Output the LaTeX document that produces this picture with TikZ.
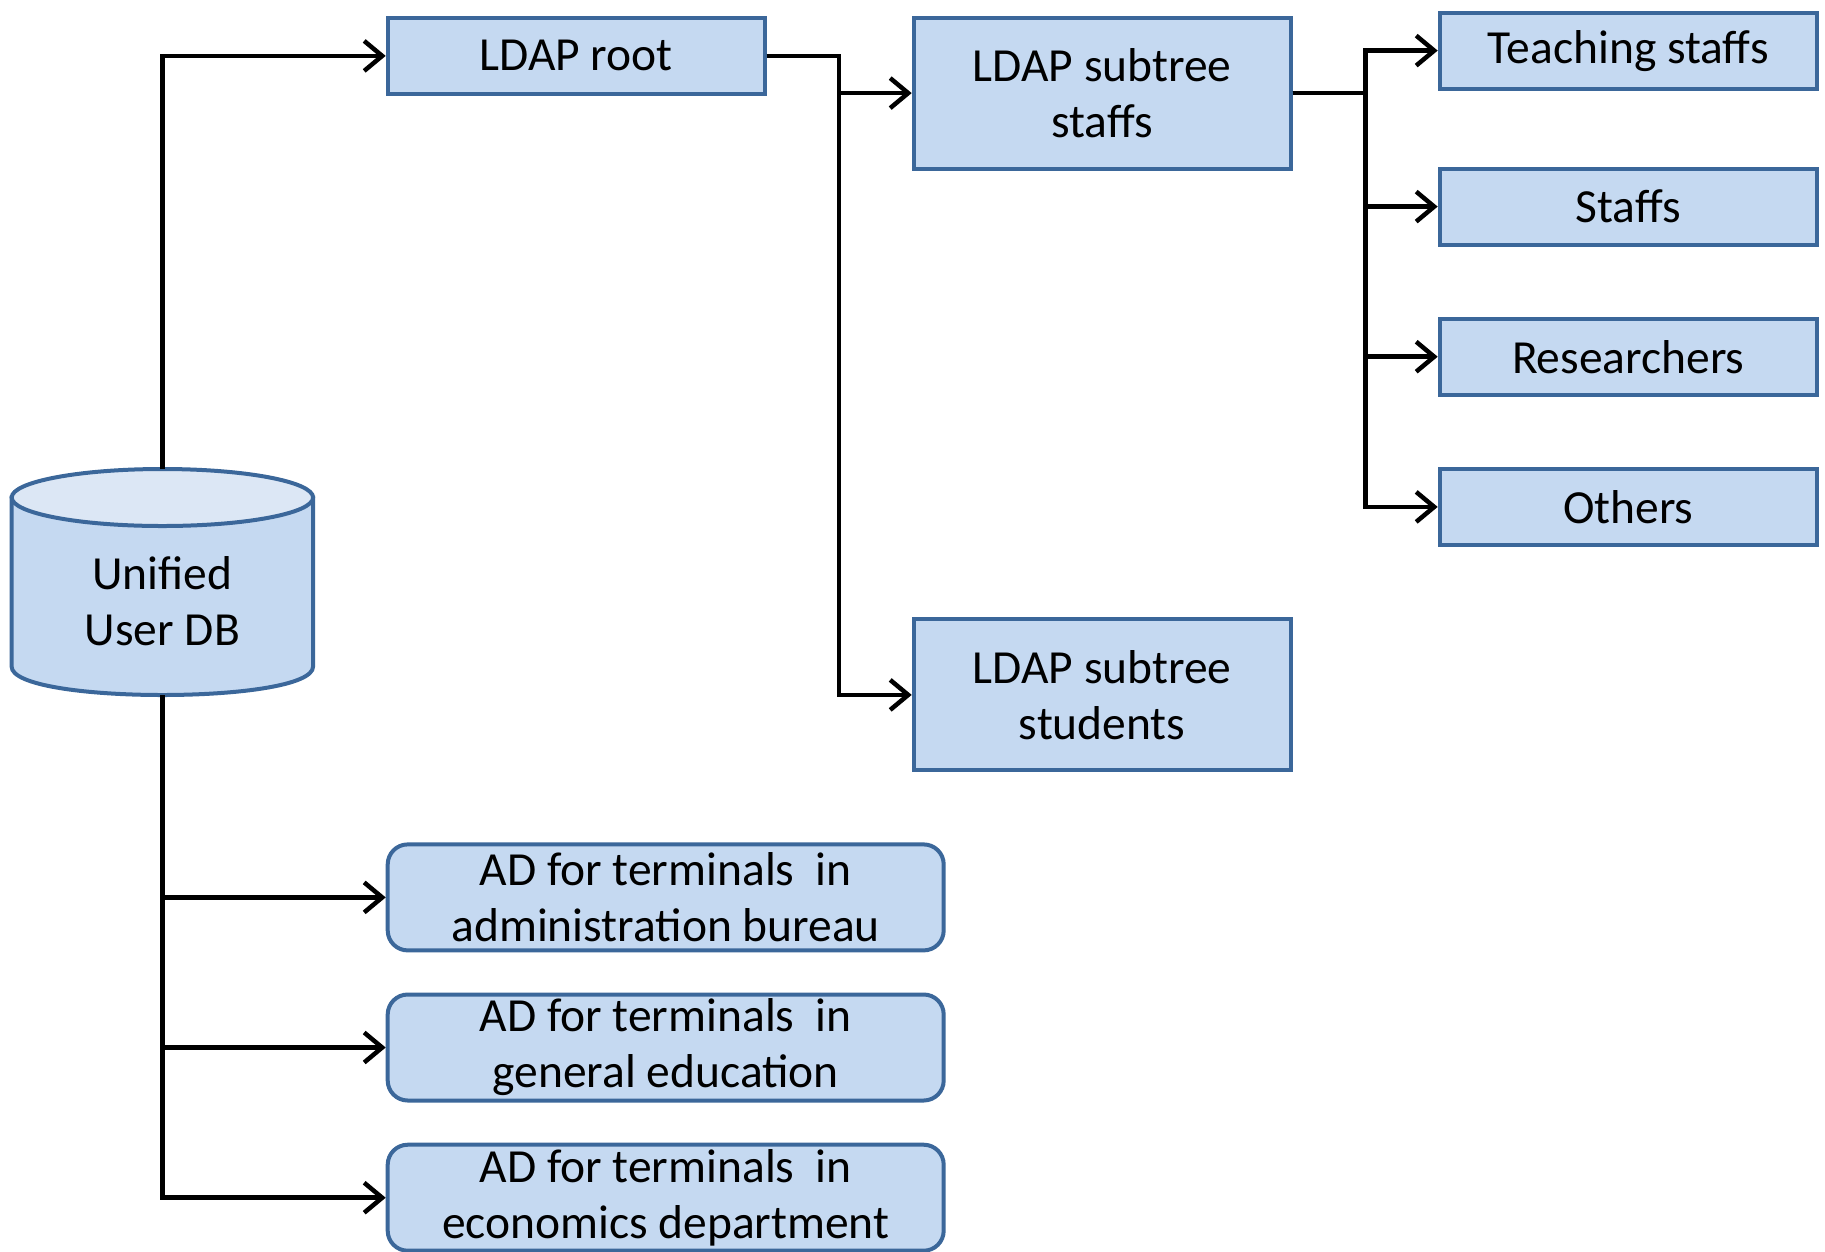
\documentclass[tikz,border=0pt]{standalone}
\usepackage{fontspec}
\setmainfont{Carlito}
\usepackage{tikz}
\usetikzlibrary{arrows.meta, calc}
\definecolor{BoxLine}{HTML}{3B679A}
\definecolor{BoxFill}{HTML}{C5D9F1}
\definecolor{TopFill}{HTML}{DCE7F5}

\begin{document}
\begin{tikzpicture}[x=1pt, y=-1pt,
	leaf/.style={draw=BoxLine, fill=BoxFill, line width=4pt, minimum width=377pt,
		minimum height=76pt, inner sep=0pt, align=center,
		font=\fontsize{47.5}{56}\selectfont},
	subtree/.style={leaf, minimum height=151pt},
	adbox/.style={leaf, rounded corners=20pt, minimum width=556pt, minimum height=106pt},
	link/.style={draw=black, line width=4.5pt, -{Straight Barb[length=18pt, width=30pt, line width=4.5pt]}}]

	\useasboundingbox (0,0) rectangle (1825,1251);

	\coordinate (T) at (162.4,469);
	\coordinate (U) at (162.4,695);
	\coordinate (J) at (839,0);
	\coordinate (K) at (1365.3,0);

	% unified user db
	\filldraw[fill=BoxFill, draw=BoxLine, line width=4pt]
		(11.6,497.5) -- (11.6,666.5) .. controls (11.6,704.5) and (313.1,704.5) .. (313.1,666.5)
		-- (313.1,497.5) -- cycle;
	\filldraw[fill=TopFill, draw=BoxLine, line width=4pt] (162.4,497.5) ellipse [x radius=150.7, y radius=28.5];
	\node[align=center, font=\fontsize{47.5}{56}\selectfont] (db) at (162.4,601) {Unified\\User DB};

	\node[leaf] (root) at (576.2,55.9) {LDAP root};
	\node[subtree] (sstaff) at (1102.2,93.1) {LDAP subtree\\staffs};
	\node[subtree] (sstud) at (1102.2,694.9) {LDAP subtree\\students};

	\node[leaf] (teach) at (1628.2,50.6) {Teaching staffs};
	\node[leaf] (staffs) at (1628.2,206.6) {Staffs};
	\node[leaf] (research) at (1628.2,356.7) {Researchers};
	\node[leaf] (others) at (1628.2,506.9) {Others};

	\node[adbox] (ad1) at (665.7,897.4) {AD for terminals\ \ in\\administration bureau};
	\node[adbox] (ad2) at (665.7,1047.5) {AD for terminals\ \ in\\general education};
	\node[adbox] (ad3) at (665.7,1197.7) {AD for terminals\ \ in\\economics department};

	\draw[link] (T) |- (root.west);
	\draw[link] (root.east) -- (root.east -| J) |- (sstaff.west);
	\draw[link] (root.east) -- (root.east -| J) |- (sstud.west);

	\foreach \n in {teach, staffs, research, others}
		\draw[link] (sstaff.east) -- (sstaff.east -| K) |- (\n.west);

	\foreach \n in {ad1, ad2, ad3}
		\draw[link] (U) |- (\n.west);

\end{tikzpicture}
\end{document}
